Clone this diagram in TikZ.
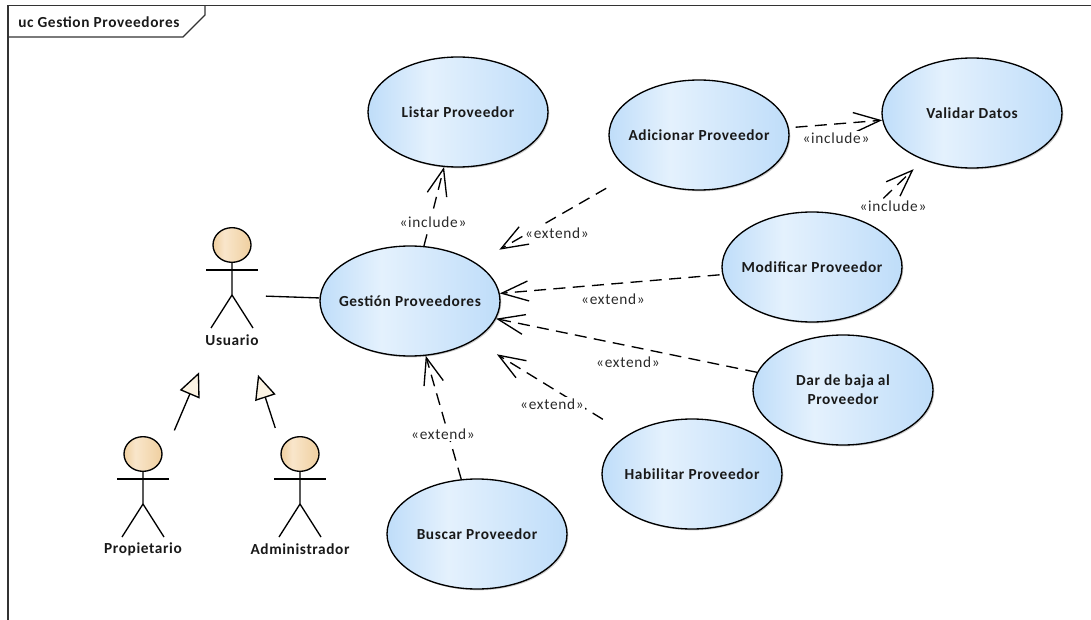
\documentclass[tikz,border=0pt]{standalone}
\usepackage{fontspec}
\setmainfont{Carlito}
\newfontfamily\boldlabel[LetterSpace=4,BoldFont=Carlito Bold]{Carlito}
\newfontfamily\plainlabel[LetterSpace=4.7]{Carlito}
\usetikzlibrary{arrows.meta,shapes.geometric,shadows}

\definecolor{ucblue}{HTML}{BFDDF9}
\definecolor{uclight}{HTML}{E4F1FD}
\definecolor{headtan}{HTML}{EFCF9F}
\definecolor{headlight}{HTML}{F9E6CB}
\definecolor{gencream}{HTML}{FBF3E3}
\definecolor{labelgrey}{HTML}{2B2B2B}

\pgfdeclarehorizontalshading{ucfill}{100bp}{color(0bp)=(ucblue); color(25bp)=(ucblue); color(42bp)=(uclight); color(75bp)=(ucblue); color(100bp)=(ucblue)}
\pgfdeclarehorizontalshading{headfill}{100bp}{color(0bp)=(headtan); color(25bp)=(headtan); color(40bp)=(headlight); color(75bp)=(headtan); color(100bp)=(headtan)}

\tikzset{
  usecase/.style={ellipse,draw=black,line width=1pt,shading=ucfill,
    minimum width=135pt,minimum height=82.5pt,inner xsep=-14pt,inner ysep=0pt,align=center,
    font=\boldlabel\fontsize{11.5}{14}\selectfont\bfseries,text=black!90,
    drop shadow={shadow xshift=1pt,shadow yshift=-1pt,fill=black!40,opacity=.5}},
  actorhead/.style={ellipse,draw=black,line width=1pt,shading=headfill,
    minimum width=28.5pt,minimum height=26pt,inner sep=0pt},
  actorlabel/.style={font=\boldlabel\fontsize{11.5}{14}\selectfont\bfseries,text=black!90,inner sep=0pt},
  stereotype/.style={fill=white,inner sep=1pt,font=\plainlabel\fontsize{11.5}{14}\selectfont,text=labelgrey},
  dep/.style={dashed,dash pattern=on 9pt off 5.5pt,line width=1pt,
    -{Straight Barb[length=20pt,width=15pt,line width=1pt]}},
  gen/.style={line width=1pt,-{Triangle[length=18pt,width=16pt,fill=gencream]}}
}

\begin{document}
\begin{tikzpicture}[x=0.75pt,y=-0.75pt]
  \useasboundingbox (0,0) rectangle (1091,620);

  % frame
  \draw[line width=.9pt,black!80] (8,620) -- (8,5.5) -- (1091,5.5);
  \draw[line width=.8pt,black!80] (8,37) -- (183,37) -- (205,15) -- (205,5.5);
  \node[anchor=west,inner sep=0pt,font=\boldlabel\fontsize{11.5}{14}\selectfont\bfseries,text=black!90] (frametitle) at (18,22) {uc Gestion Proveedores};

  % use cases
  \node[usecase] (listar)    at (458,112) {Listar Proveedor};
  \node[usecase] (adicionar) at (699,135) {Adicionar Proveedor};
  \node[usecase] (validar)   at (972,113) {Validar Datos};
  \node[usecase] (gestion)   at (410,301) {Gestión Proveedores};
  \node[usecase] (modificar) at (812,267) {Modificar Proveedor};
  \node[usecase] (baja)      at (843,390) {Dar de baja al\\Proveedor};
  \node[usecase] (habilitar) at (692,474) {Habilitar Proveedor};
  \node[usecase] (buscar)    at (477,534) {Buscar Proveedor};

  % actors
  \foreach \x/\y/\name/\txt in {232/245/usuario/Usuario,143/454/propietario/Propietario,300/454/administrador/Administrador} {
    \begin{scope}[shift={(\x,\y)}]
      \node[actorhead] (\name head) at (0,0) {};
      \coordinate (\name) at (0,50);
      \draw[line width=1pt] (\name head) -- (\name) -- (-21,83);
      \draw[line width=1pt] (\name) -- (21,83);
      \draw[line width=1pt] (-26,25) -- (26,25);
      \node[actorlabel] (\name label) at (0,95) {\txt};
    \end{scope}
  }

  % connectors
  \draw[line width=1pt,shorten <=25.5pt] (usuario) -- (gestion);
  \draw[gen,shorten <=60pt,shorten >=63pt] (propietario) -- (usuario);
  \draw[gen,shorten <=60pt,shorten >=63pt] (administrador) -- (usuario);
  \foreach \from/\to/\sa/\sb in {gestion/listar/0/0,adicionar/gestion/23/20,modificar/gestion/2/0,baja/gestion/0/0,habilitar/gestion/22/20,buscar/gestion/0/0,adicionar/validar/5/0,modificar/validar/9/10} {
    \draw[dep,shorten <=\sa pt,shorten >=\sb pt] (\from) -- (\to);
  }

  % stereotypes
  \node[stereotype] (inclistar)    at (433,222) {«include»};
  \node[stereotype] (incadicionar) at (836,138) {«include»};
  \node[stereotype] (incmodificar) at (893,206) {«include»};
  \node[stereotype] (extadicionar) at (557,233) {«extend»};
  \node[stereotype] (extmodificar) at (613,299) {«extend»};
  \node[stereotype] (extbaja)      at (628,362) {«extend»};
  \node[stereotype] (exthabilitar) at (552,404) {«extend»};
  \node[stereotype] (extbuscar)    at (443,434) {«extend»};
\end{tikzpicture}
\end{document}
